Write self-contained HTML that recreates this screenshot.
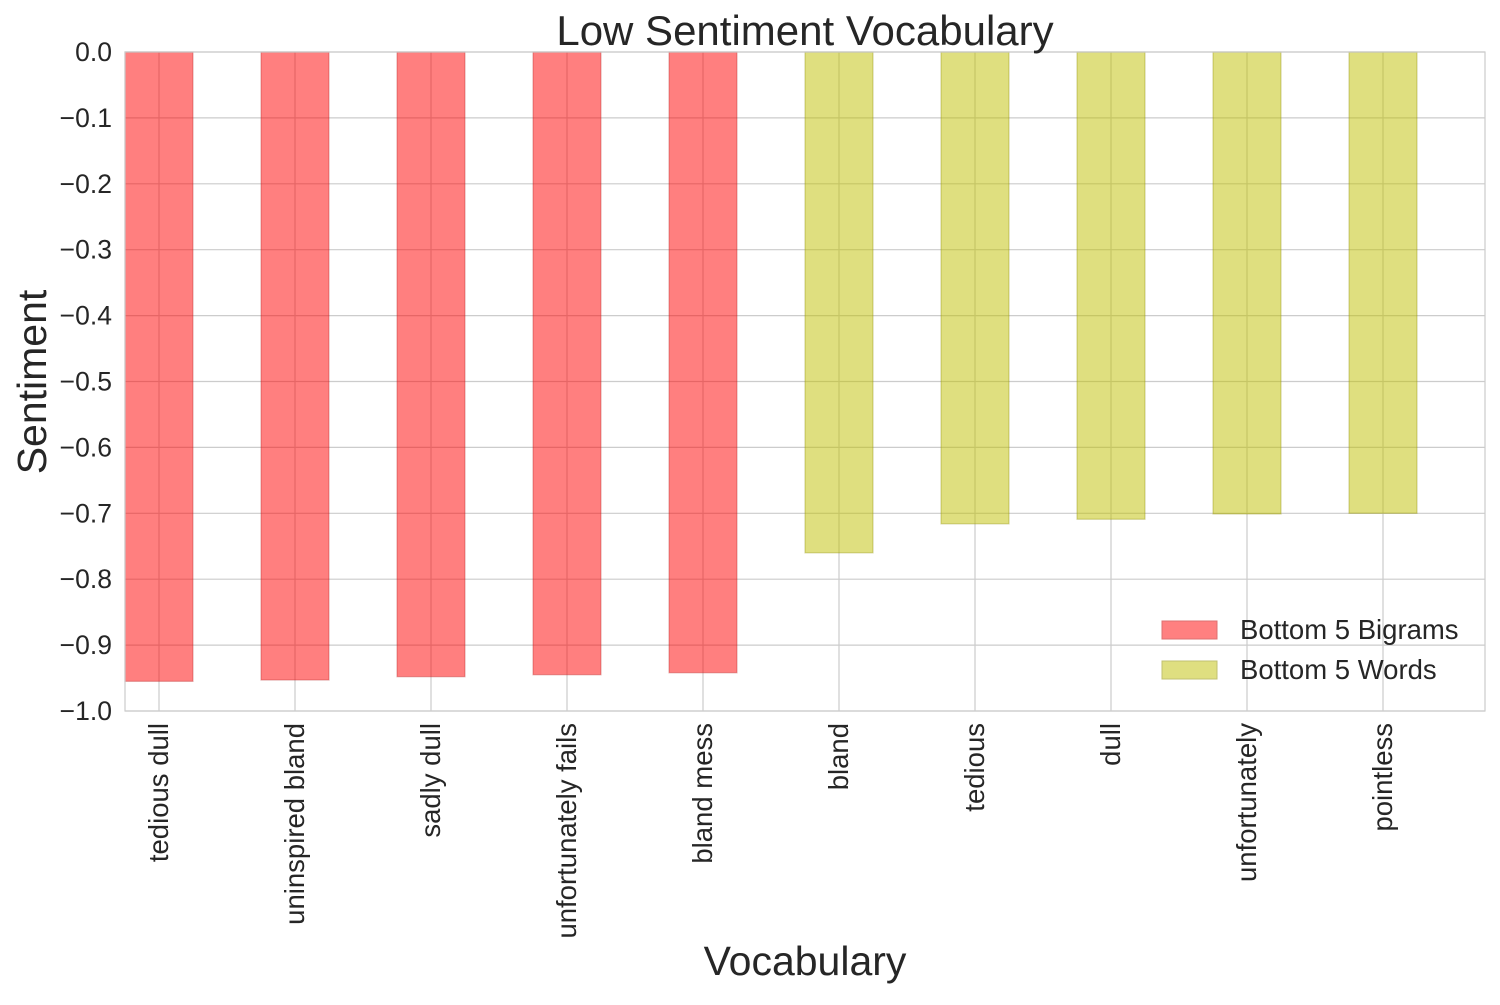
<!DOCTYPE html>
<html><head><meta charset="utf-8">
<style>
html,body{margin:0;padding:0;background:#fff;}
svg text{font-family:"Liberation Sans",sans-serif;fill:#262626;}
</style></head>
<body>
<svg id="chart" width="1500" height="1000" xmlns="http://www.w3.org/2000/svg">
<rect width="1500" height="1000" fill="#fff"/>
<g id="grid"></g>
<g id="bars"></g>
<rect x="125" y="52" width="1360" height="659" fill="none" stroke="#cccccc" stroke-width="1.2"/>
<g id="ticks"></g>
<text x="805" y="45" font-size="42" text-anchor="middle">Low Sentiment Vocabulary</text>
<text x="805" y="975" font-size="41" text-anchor="middle">Vocabulary</text>
<text transform="translate(46,382) rotate(-90)" font-size="41" text-anchor="middle">Sentiment</text>
<g>
<rect x="1162" y="621" width="55" height="18" fill="#ff8080" stroke="#dd7070"/>
<text x="1240" y="639" font-size="27.5">Bottom 5 Bigrams</text>
<rect x="1162" y="661" width="55" height="18" fill="#dfdf80" stroke="#c0c070"/>
<text x="1240" y="679" font-size="27.5">Bottom 5 Words</text>
</g>
</svg>
<script>
const categories = ["tedious dull","uninspired bland","sadly dull","unfortunately fails","bland mess","bland","tedious","dull","unfortunately","pointless"];
const values = [-0.955,-0.953,-0.948,-0.945,-0.942,-0.760,-0.716,-0.709,-0.701,-0.700];
const groups = ["bigram","bigram","bigram","bigram","bigram","word","word","word","word","word"];
const yTicks = [0.0,-0.1,-0.2,-0.3,-0.4,-0.5,-0.6,-0.7,-0.8,-0.9,-1.0];
const yTickLabels = ["0.0","\u22120.1","\u22120.2","\u22120.3","\u22120.4","\u22120.5","\u22120.6","\u22120.7","\u22120.8","\u22120.9","\u22121.0"];

const NS="http://www.w3.org/2000/svg";
const L=125,R=1485,T=52,B=711;
function y(v){return T+(0-v)/(1.0)*(B-T);}
function x(i){return L+(i+0.25)/10*(R-L);}
const bw=0.5/10*(R-L);
const grid=document.getElementById('grid'),bars=document.getElementById('bars'),ticks=document.getElementById('ticks');
function mk(tag,attrs,parent){const e=document.createElementNS(NS,tag);for(const k in attrs)e.setAttribute(k,attrs[k]);parent.appendChild(e);return e;}
yTicks.forEach((t,i)=>{
  const l=mk('line',{x1:L,x2:R,y1:y(t),y2:y(t),stroke:'#cccccc','stroke-width':1.2},grid);
  
  
  const tx=mk('text',{x:112,y:y(t)+9,'font-size':26.5,'text-anchor':'end'},ticks);
  tx.textContent=yTickLabels[i];
  
  
});
categories.forEach((c,i)=>{
  const l=mk('line',{x1:x(i),x2:x(i),y1:T,y2:B,stroke:'#cccccc','stroke-width':1.2},grid);
  
  
  const isB=groups[i]==='bigram';
  const top=y(0),bot=y(values[i]);
  const r=mk('rect',{x:x(i)-bw/2,y:top,width:bw,height:bot-top,fill:isB?'rgba(255,0,0,0.5)':'rgba(191,191,0,0.5)',stroke:isB?'rgba(180,40,40,0.35)':'rgba(140,140,0,0.35)','stroke-width':1.2},bars);
  
  
  const tx=mk('text',{'font-size':27.5,'text-anchor':'end',transform:`translate(${x(i)+9},723) rotate(-90)`},ticks);
  tx.textContent=c;
  
  
});
</script>
</body></html>
